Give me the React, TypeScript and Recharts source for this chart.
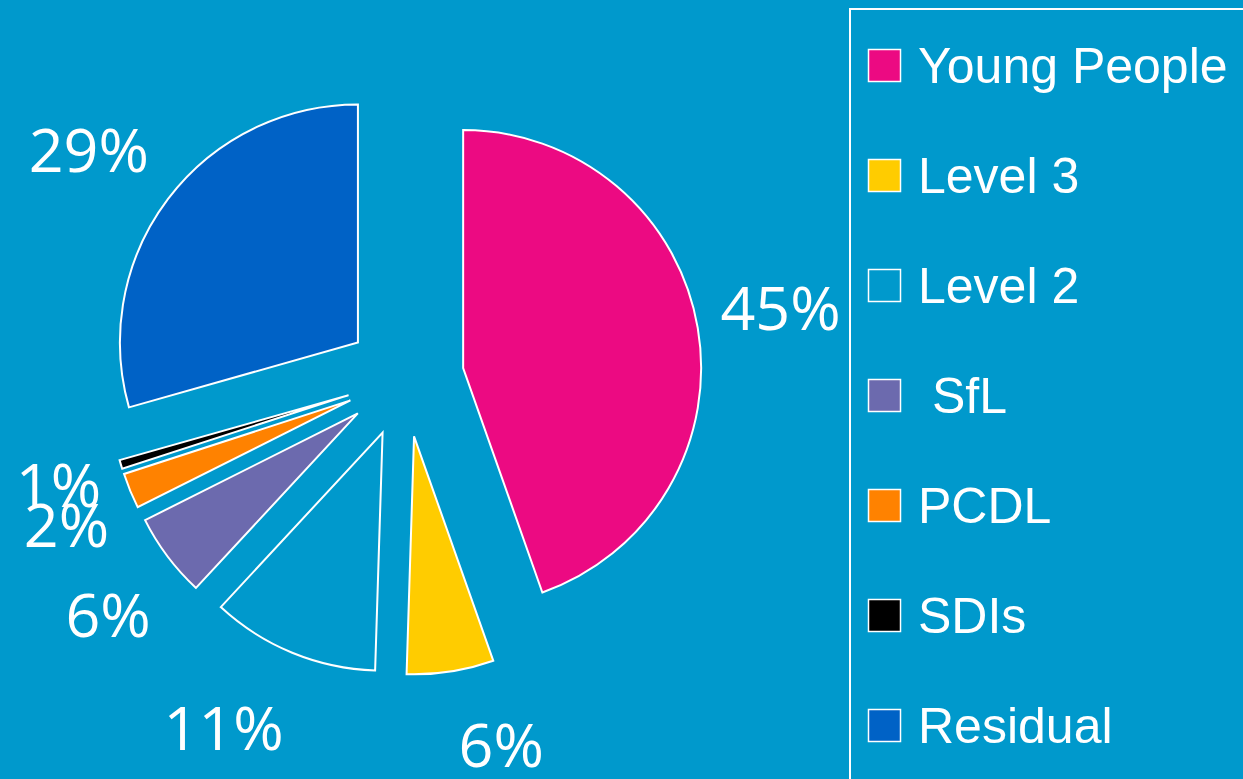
import React from 'react';
import { PieChart, Pie, Cell, Legend, Sector } from 'recharts';

const categories = ['Young People', 'Level 3', 'Level 2', ' SfL', 'PCDL', 'SDIs', 'Residual'];
const shares = [44.6, 5.9, 11.4, 5.7, 2.4, 0.6, 29.4];

const sliceColors = ['#EC0A82', '#FFCC00', '#0099CC', '#6C6AAE', '#FF8200', '#000000', '#0062C6'];
const labelNudge = [[1, -6], [38, -8], [-37, -1], [7, 9], [13, 3], [17, -3], [-13, 1]];

const data = categories.map((name, i) => ({ name, value: shares[i] }));

const BG = '#0099CC';
const RAD = Math.PI / 180;
const EXPLODE = 59;
const LABEL_R = 380;
const LABEL_FONT = 61;

const renderSlice = (props: any) => {
  const { cx, cy, midAngle, startAngle, endAngle, outerRadius, percent, index } = props;
  const ux = Math.cos(-midAngle * RAD);
  const uy = Math.sin(-midAngle * RAD);
  const lx = cx + LABEL_R * ux + labelNudge[index][0];
  const ly = cy + LABEL_R * uy + labelNudge[index][1] + LABEL_FONT * 0.714 / 2;
  return (
    <g key={`slice-${index}`}>
      <Sector
        cx={cx + EXPLODE * ux}
        cy={cy + EXPLODE * uy}
        innerRadius={0}
        outerRadius={outerRadius}
        startAngle={startAngle}
        endAngle={endAngle}
        fill={sliceColors[index]}
        stroke="#FFFFFF"
        strokeWidth={2}
        strokeLinejoin="miter"
      />
      <text
        x={lx}
        y={ly}
        textAnchor="middle"
        fill="#FFFFFF"
        fontSize={LABEL_FONT}
        fontFamily="'Open Sans', 'Liberation Sans', sans-serif"
      >
        {`${Math.round(percent * 100)}%`}
      </text>
    </g>
  );
};

const renderLegend = () => {
  return (
    <svg width={394} height={771} style={{ display: 'block' }}>
      <rect x={1} y={1} width={420} height={800} fill="none" stroke="#FFFFFF" strokeWidth={2} />
      {categories.map((name, i) => (
        <g key={`leg-${i}`}>
          <rect x={19.5} y={41.5 + 110 * i} width={32} height={32} fill={sliceColors[i]} stroke="#FFFFFF" strokeWidth={1.5} />
          <text
            x={69}
            y={75 + 110 * i}
            fill="#FFFFFF"
            fontSize={50}
            fontFamily="'Liberation Sans', Arial, sans-serif"
            style={{ whiteSpace: 'pre' }}
          >
            {name}
          </text>
        </g>
      ))}
    </svg>
  );
};

export default function App() {
  return (
    <div
      style={{
        position: 'absolute',
        left: 0,
        top: 0,
        width: 1243,
        height: 779,
        background: BG,
        overflow: 'hidden',
      }}
    >
      <PieChart width={1243} height={779} margin={{ top: 0, right: 0, bottom: 0, left: 0 }}>
        <Pie
          data={data}
          dataKey="value"
          nameKey="name"
          cx={405}
          cy={378}
          outerRadius={238}
          startAngle={90}
          endAngle={-270}
          stroke="none"
          labelLine={false}
          label={renderSlice}
          isAnimationActive={false}
        >
          {data.map((d, i) => (
            <Cell key={`cell-${i}`} fill="transparent" stroke="none" />
          ))}
        </Pie>
        <Legend
          layout="vertical"
          align="right"
          verticalAlign="top"
          content={renderLegend}
          wrapperStyle={{ left: 849, top: 8, width: 394, height: 771 }}
        />
      </PieChart>
    </div>
  );
}
